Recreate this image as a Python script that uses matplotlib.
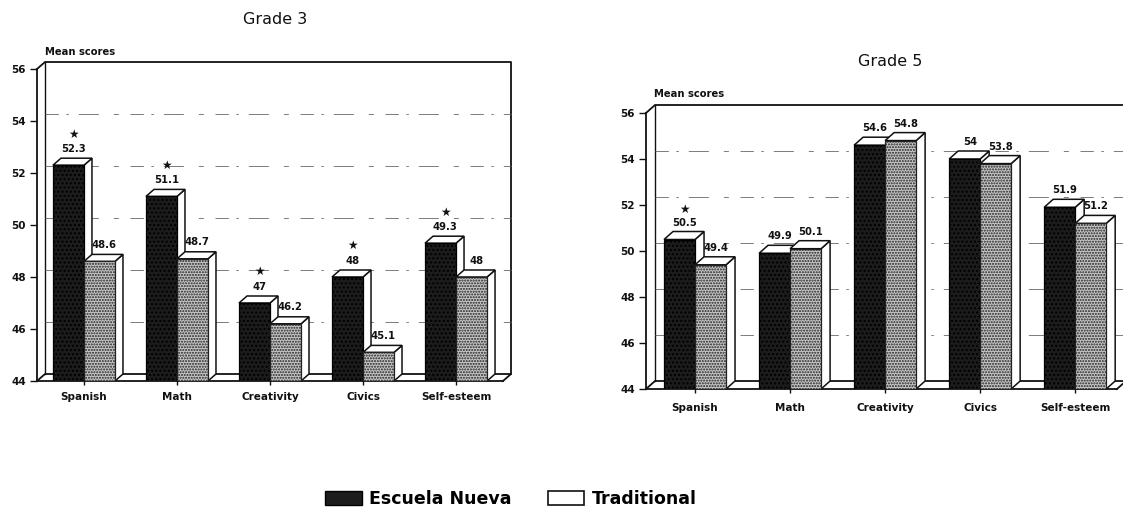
import matplotlib
matplotlib.use("Agg")
import matplotlib.pyplot as plt
from matplotlib.patches import Polygon, Patch

W, H = 1123, 514
categories = ["Spanish", "Math", "Creativity", "Civics", "Self-esteem"]
en_grade3 = [52.3, 51.1, 47, 48, 49.3]
tr_grade3 = [48.6, 48.7, 46.2, 45.1, 48]
en_grade5 = [50.5, 49.9, 54.6, 54, 51.9]
tr_grade5 = [49.4, 50.1, 54.8, 53.8, 51.2]
stars_grade3 = [True, True, True, True, True]
stars_grade5 = [True, False, False, False, False]
yticks = [44, 46, 48, 50, 52, 54, 56]

SANS = "DejaVu Sans"
DARK = "#1c1c1c"
LIGHT = "#c6c6c6"
LINE = "#111111"

fig = plt.figure(figsize=(W / 100, H / 100), dpi=100, facecolor="white")


def draw(box, en, tr, stars, title, title_xy, xlim, depth_px, ylabel_xy, xpad):
    left, top, right, bottom = box
    ax = fig.add_axes([left / W, 1 - bottom / H, (right - left) / W, (bottom - top) / H])
    ax.set_xlim(*xlim)
    ax.set_ylim(44, 56)
    ax.patch.set_visible(False)
    for s in ("top", "right"):
        ax.spines[s].set_visible(False)
    for s in ("left", "bottom"):
        ax.spines[s].set_linewidth(1.3)
        ax.spines[s].set_color(LINE)
    ux = (xlim[1] - xlim[0]) / (right - left)
    uy = 12 / (bottom - top)
    dx, dy = depth_px[0] * ux, depth_px[1] * uy
    bw = 31 * ux

    # back wall, floor and sparse scanned grid lines
    xa, xb = xlim
    ax.plot([xa, xa + dx, xb + dx, xb + dx], [56, 56 + dy, 56 + dy, 44 + dy], color=LINE, lw=1.3, clip_on=False, zorder=1)
    ax.plot([xa + dx, xa + dx], [44 + dy, 56 + dy], color=LINE, lw=1.0, clip_on=False, zorder=1)
    ax.plot([xa, xa + dx, xb + dx, xb], [44, 44 + dy, 44 + dy, 44], color=LINE, lw=1.3, clip_on=False, zorder=1)
    for v in yticks[1:-1]:
        ax.plot([xa + dx, xb + dx], [v + dy, v + dy], color="#666666", lw=0.6,
                dashes=(16, 9, 3, 12, 24, 18, 6, 14), clip_on=False, zorder=1)

    for i, (a, b) in enumerate(zip(en, tr)):
        for x0, v, col, hatch, ec in ((i - bw, a, DARK, "....", "#000000"), (i, b, LIGHT, "......", "#222222")):
            ax.add_patch(Polygon([(x0 + bw, 44), (x0 + bw + dx, 44 + dy), (x0 + bw + dx, v + dy), (x0 + bw, v)],
                                 fc="white", ec=LINE, lw=1.1, clip_on=False, zorder=3 + i))
            ax.add_patch(Polygon([(x0, v), (x0 + dx, v + dy), (x0 + bw + dx, v + dy), (x0 + bw, v)],
                                 fc="white", ec=LINE, lw=1.1, clip_on=False, zorder=3 + i))
            plt.rcParams["hatch.color"] = "#444444" if col == DARK else "#8a8a8a"
            ax.bar(x0, v - 44, bw, bottom=44, align="edge", color=col, edgecolor=ec, linewidth=0.9,
                   hatch=hatch, zorder=3 + i)
            ax.text(x0 + bw / 2 + dx * 0.6, v + dy + 0.17, f"{v:g}", ha="center", va="bottom",
                    fontsize=7.2, fontweight="bold", family=SANS, color="#111111", zorder=20)
        if stars[i]:
            ax.text(i - bw / 2 + dx * 0.6, a + dy + 0.68, "★", ha="center", va="bottom", fontsize=8.5,
                    family="DejaVu Sans", color="#111111", zorder=20)

    ax.set_xticks(range(len(categories)))
    ax.set_xticklabels(categories, fontsize=7.5, fontweight="bold", family=SANS, color="#111111")
    ax.set_yticks(yticks)
    ax.set_yticklabels([str(t) for t in yticks], fontsize=7.5, fontweight="bold", family=SANS, color="#111111")
    ax.tick_params(axis="x", length=3, width=1, pad=xpad, color=LINE)
    ax.tick_params(axis="y", length=5, width=1, pad=3, color=LINE)
    fig.text(title_xy[0] / W, 1 - title_xy[1] / H, title, ha="center", va="center", fontsize=11.5, family=SANS, color="#111111")
    fig.text(ylabel_xy[0] / W, 1 - ylabel_xy[1] / H, "Mean scores", ha="left", va="center", fontsize=7.2,
             fontweight="bold", family=SANS, color="#111111")


draw((37, 69, 503, 381), en_grade3, tr_grade3, stars_grade3, "Grade 3", (275, 20), (-0.505, 4.505), (8, 7), (45, 52), 5)
draw((646, 113, 1117, 389), en_grade5, tr_grade5, stars_grade5, "Grade 5", (890, 62), (-0.516, 4.44), (9, 8), (654, 94), 7)

handles = [Patch(fc=DARK, ec="#000000", lw=1), Patch(fc="white", ec=LINE, lw=1.2)]
fig.legend(handles, ["Escuela Nueva", "Traditional"], loc="center", bbox_to_anchor=(511 / W, 1 - 499 / H), ncol=2,
           frameon=False, handlelength=2.1, handleheight=0.85, handletextpad=0.42, columnspacing=2.1,
           prop={"family": "DejaVu Sans", "weight": "bold", "size": 12.5})
fig.savefig("out.png", dpi=100, facecolor="white")
